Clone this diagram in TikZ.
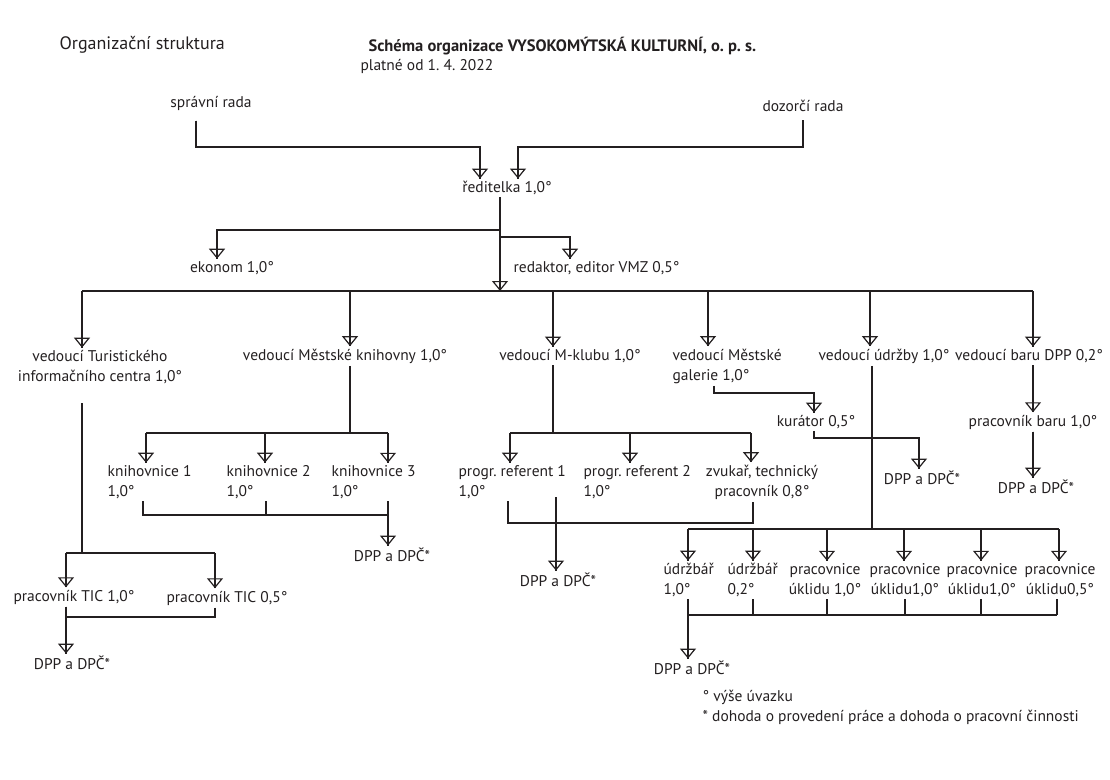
\documentclass[tikz,border=0pt]{standalone}
\usepackage{fontspec}
\setmainfont{PT Sans}
\usetikzlibrary{arrows.meta}
\definecolor{ink}{HTML}{231F20}
\frenchspacing

\begin{document}
\begin{tikzpicture}[x=1pt,y=-1pt,color=ink,line width=1.2pt,font=\fontsize{15.5}{20}\selectfont]
  \tikzstyle{lbl}=[inner xsep=0pt,inner ysep=2pt]
  \tikzstyle{arr}=[-{Triangle[open,length=10pt,width=16pt]},postaction={draw,-}]
  \useasboundingbox (0,0) rectangle (1110,779);

  % heading
  \node(org)[lbl,anchor=west,font=\fontsize{18}{20}\selectfont] at (59,45) {Organizační struktura};
  \node(head)[lbl,anchor=west,font=\fontsize{16.5}{20}\selectfont\bfseries] at (368,46) {Schéma organizace VYSOKOMÝTSKÁ KULTURNÍ, o. p. s.};
  \node(valid)[lbl,anchor=west] at (360,66) {platné od 1. 4. 2022};

  % boards and director
  \node(spravni)[lbl] at (211,103) {správní rada};
  \node(dozorci)[lbl] at (803,106) {dozorčí rada};
  \node(reditelka)[lbl] at (507,188) {ředitelka 1,0°};
  \node(ekonom)[lbl] at (232,268) {ekonom 1,0°};
  \node(redaktor)[lbl,anchor=west] at (513,268) {redaktor, editor VMZ 0,5°};

  % heads of departments
  \node(tic)[lbl,align=center] at (100,367) {vedoucí Turistického\\informačního centra 1,0°};
  \node(knih)[lbl] at (345,356) {vedoucí Městské knihovny 1,0°};
  \node(mklub)[lbl] at (570,356) {vedoucí M-klubu 1,0°};
  \node(galerie)[lbl,align=left,anchor=west] at (672,366) {vedoucí Městské\\galerie 1,0°};
  \node(udrzba)[lbl] at (884,356) {vedoucí údržby 1,0°};
  \node(bar)[lbl] at (1029,356) {vedoucí baru DPP 0,2°};

  % staff
  \node(tic1)[lbl] at (74,597) {pracovník TIC 1,0°};
  \node(tic2)[lbl] at (227,598) {pracovník TIC 0,5°};
  \node(ticdpp)[lbl] at (72,663) {DPP a DPČ*};

  \node(kn1)[lbl,align=left,anchor=west] at (107,482) {knihovnice 1\\1,0°};
  \node(kn2)[lbl,align=left,anchor=west] at (226,482) {knihovnice 2\\1,0°};
  \node(kn3)[lbl,align=left,anchor=west] at (331,482) {knihovnice 3\\1,0°};
  \node(kndpp)[lbl] at (392,555) {DPP a DPČ*};

  \node(pr1)[lbl,align=left,anchor=west] at (458,482) {progr. referent 1\\1,0°};
  \node(pr2)[lbl,align=left,anchor=west] at (583,482) {progr. referent 2\\1,0°};
  \node(zvuk)[lbl,align=center] at (762,482) {zvukař, technický\\pracovník 0,8°};
  \node(mkdpp)[lbl] at (558,580) {DPP a DPČ*};

  \node(kurator)[lbl] at (816,422) {kurátor 0,5°};
  \node(galdpp)[lbl] at (922,478) {DPP a DPČ*};

  \node(ud1)[lbl,align=left,anchor=west] at (663,580) {údržbář\\1,0°};
  \node(ud2)[lbl,align=left,anchor=west] at (727,580) {údržbář\\0,2°};
  \node(uk1)[lbl,align=center] at (825,580) {pracovnice\\úklidu 1,0°};
  \node(uk2)[lbl,align=center] at (905,580) {pracovnice\\úklidu1,0°};
  \node(uk3)[lbl,align=center] at (982,580) {pracovnice\\úklidu1,0°};
  \node(uk4)[lbl,align=center] at (1060,580) {pracovnice\\úklidu0,5°};
  \node(uddpp)[lbl] at (692,668) {DPP a DPČ*};

  \node(barprac)[lbl] at (1033,422) {pracovník baru 1,0°};
  \node(bardpp)[lbl] at (1036,487) {DPP a DPČ*};

  % notes
  \node(note1)[lbl,anchor=west] at (702,697) {° výše úvazku};
  \node(note2)[lbl,anchor=west] at (702,717) {* dohoda o provedení práce a dohoda o pracovní činnosti};

  % bus levels
  \coordinate (rbus) at (0,147);
  \coordinate (ebus) at (0,230);
  \coordinate (vbus) at (0,237);
  \coordinate (mbus) at (0,291);
  \coordinate (ticbus) at (0,553);
  \coordinate (ticbot) at (0,617);
  \coordinate (knbus) at (0,433);
  \coordinate (knbot) at (0,515);
  \coordinate (mkbus) at (0,433);
  \coordinate (mkbot) at (0,523);
  \coordinate (galbus) at (0,393);
  \coordinate (kurbus) at (0,438);
  \coordinate (udbus) at (0,529);
  \coordinate (udbot) at (0,615);

  % boards to director
  \draw[arr] ([xshift=-15pt,yshift=-8pt]spravni.south) |- ([xshift=-27pt]reditelka.north |- rbus) -- ([xshift=-27pt]reditelka.north);
  \draw[arr] ([yshift=-6pt]dozorci.south) |- ([xshift=11pt]reditelka.north |- rbus) -- ([xshift=11pt]reditelka.north);

  % director
  \draw[arr] ([xshift=-7pt]reditelka.south) |- ([xshift=-15pt]ekonom.north |- ebus) -- ([xshift=-15pt]ekonom.north);
  \draw[arr] ([xshift=-7pt]reditelka.south |- vbus) -| ([xshift=57pt]redaktor.north west);
  \draw[arr] ([xshift=-7pt]reditelka.south) -- ([xshift=-7pt]reditelka.south |- mbus);

  % heads of departments
  \draw ([xshift=-18pt]tic.north |- mbus) -- ([xshift=4pt]bar.north |- mbus);
  \foreach \t/\s in {tic.north/-18, knih.north/5, mklub.north/-17, galerie.north west/36, udrzba.north/-14, bar.north/4}
    \draw[arr] ([xshift=\s pt]\t |- mbus) -- ([xshift=\s pt]\t);

  % TIC
  \draw ([xshift=-18pt,yshift=-17pt]tic.south) -- ([xshift=-18pt]tic.south |- ticbus);
  \draw ([xshift=-8pt]tic1.north |- ticbus) -- ([xshift=-12pt]tic2.north |- ticbus);
  \foreach \t/\s in {tic1/-8, tic2/-12}
    \draw[arr] ([xshift=\s pt]\t.north |- ticbus) -- ([xshift=\s pt]\t.north);
  \draw ([xshift=-12pt]tic2.south) |- ([xshift=-8pt]tic1.south |- ticbot);
  \draw[arr] ([xshift=-8pt]tic1.south) -- ([xshift=-6pt]ticdpp.north);

  % library
  \draw ([xshift=5pt]knih.south) -- ([xshift=5pt]knih.south |- knbus);
  \draw ([xshift=39pt]kn1.north west |- knbus) -- ([xshift=57pt]kn3.north west |- knbus);
  \foreach \t/\s in {kn1/39, kn2/39, kn3/57}
    \draw[arr] ([xshift=\s pt]\t.north west |- knbus) -- ([xshift=\s pt]\t.north west);
  \draw ([xshift=36pt]kn1.south west) |- ([xshift=57pt]kn3.south west |- knbot);
  \draw ([xshift=40pt]kn2.south west) -- ([xshift=40pt]kn2.south west |- knbot);
  \draw[arr] ([xshift=57pt]kn3.south west) -- ([xshift=-4pt]kndpp.north);

  % M-klub
  \draw ([xshift=-17pt]mklub.south) -- ([xshift=-17pt]mklub.south |- mkbus);
  \draw ([xshift=52pt]pr1.north west |- mkbus) -- ([xshift=-11pt]zvuk.north |- mkbus);
  \foreach \t/\s in {pr1.north west/52, pr2.north west/47, zvuk.north/-11}
    \draw[arr] ([xshift=\s pt]\t |- mkbus) -- ([xshift=\s pt]\t);
  \draw ([xshift=50pt]pr1.south west) |- ([xshift=-9pt]zvuk.south |- mkbot) -- ([xshift=-9pt]zvuk.south);
  \draw[arr] ([xshift=98pt,yshift=4pt]pr1.south west) -- ([xshift=-2pt]mkdpp.north);

  % gallery
  \draw[arr] ([xshift=42pt]galerie.south west) |- ([xshift=-2pt]kurator.north |- galbus) -- ([xshift=-2pt]kurator.north);
  \draw[arr] ([xshift=-2pt]kurator.south) |- ([xshift=-3pt]galdpp.north |- kurbus) -- ([xshift=-3pt]galdpp.north);

  % maintenance
  \draw ([xshift=-12pt]udrzba.south) -- ([xshift=-12pt]udrzba.south |- udbus);
  \draw ([xshift=25pt]ud1.north west |- udbus) -- ([xshift=-1pt]uk4.north |- udbus);
  \foreach \t/\s in {ud1.north west/25, ud2.north west/26, uk1.north/2, uk2.north/-1, uk3.north/-1, uk4.north/-1}
    \draw[arr] ([xshift=\s pt]\t |- udbus) -- ([xshift=\s pt]\t);
  \draw ([xshift=25pt]ud1.south west) |- ([xshift=-3pt]uk4.south |- udbot);
  \foreach \t/\s in {ud2.south west/26, uk1.south/2, uk2.south/0, uk3.south/-1, uk4.south/-3}
    \draw ([xshift=\s pt]\t) -- ([xshift=\s pt]\t |- udbot);
  \draw[arr] ([xshift=25pt]ud1.south west) -- ([xshift=-4pt]uddpp.north);

  % bar
  \draw[arr] ([xshift=4pt]bar.south) -- (barprac.north);
  \draw[arr] (barprac.south) -- ([xshift=-3pt]bardpp.north);
\end{tikzpicture}
\end{document}
